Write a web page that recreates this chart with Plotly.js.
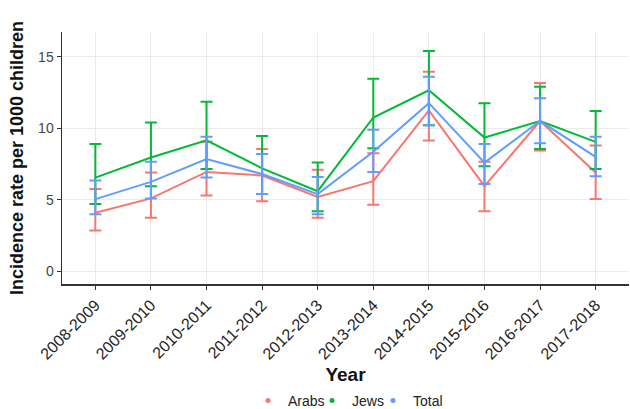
<!DOCTYPE html>
<html>
<head>
<meta charset="utf-8">
<script src="https://cdn.plot.ly/plotly-3.0.1.min.js"></script>
<style>html,body{margin:0;padding:0;background:#fff;}#chart{width:630px;height:409px;}</style>
</head>
<body>
<div id="chart"></div>
<script>
const years = ['2008-2009','2009-2010','2010-2011','2011-2012','2012-2013','2013-2014','2014-2015','2015-2016','2016-2017','2017-2018'];

const arabs   = [4.1, 5.1, 6.95, 6.7, 5.2, 6.3, 11.25, 5.95, 10.5, 6.9];
const arabsHi = [5.75, 6.9, 9.05, 8.55, 7.1, 8.25, 13.95, 7.65, 13.15, 8.8];
const arabsLo = [2.85, 3.75, 5.3, 4.9, 3.75, 4.65, 9.15, 4.2, 8.45, 5.05];

const jews   = [6.55, 7.95, 9.15, 7.2, 5.6, 10.75, 12.65, 9.35, 10.5, 9.05];
const jewsHi = [8.9, 10.4, 11.85, 9.45, 7.6, 13.45, 15.4, 11.75, 12.9, 11.2];
const jewsLo = [4.7, 5.95, 7.15, 5.4, 4.2, 8.6, 10.2, 7.35, 8.55, 7.15];

const total   = [5.05, 6.25, 7.85, 6.8, 5.4, 8.35, 11.75, 7.6, 10.5, 8.0];
const totalHi = [6.35, 7.65, 9.4, 8.2, 6.6, 9.9, 13.6, 8.9, 12.1, 9.4];
const totalLo = [4.0, 5.1, 6.55, 5.4, 4.0, 6.95, 10.2, 6.1, 8.95, 6.65];

const groups = [
  {name:'Arabs', v:arabs, hi:arabsHi, lo:arabsLo, color:'#F8766D', legend:'legend'},
  {name:'Jews',  v:jews,  hi:jewsHi,  lo:jewsLo,  color:'#00BA38', legend:'legend2'},
  {name:'Total', v:total, hi:totalHi, lo:totalLo, color:'#619CFF', legend:'legend3'}
];

const traces = [];
groups.forEach(g => {
  traces.push({
    type:'scatter', mode:'lines', x:years, y:g.v, name:g.name, showlegend:false,
    line:{color:g.color, width:2},
    error_y:{type:'data', symmetric:false,
      array:g.hi.map((h,i)=>h-g.v[i]),
      arrayminus:g.v.map((v,i)=>v-g.lo[i]),
      color:g.color, thickness:2, width:6},
    hoverinfo:'x+y'
  });
});
groups.forEach(g => {
  traces.push({
    type:'scatter', mode:'markers', x:[null], y:[null], name:g.name, showlegend:true,
    legend:g.legend, marker:{color:g.color, size:5}
  });
});

const legendBase = {orientation:'h', xanchor:'left', yref:'container', y:0.02, yanchor:'middle',
    font:{size:14, color:'#222'}, itemwidth:30, bgcolor:'rgba(0,0,0,0)'};

const layout = {
  width:630, height:409,
  margin:{l:62, r:1, t:32, b:125},
  paper_bgcolor:'#fff', plot_bgcolor:'#fff',
  font:{family:'Liberation Sans, Arial, sans-serif', size:12, color:'#4d4d4d'},
  xaxis:{
    type:'category', range:[-0.6, 9.6], automargin:false,
    tickangle:-45, tickfont:{size:16, color:'#222'},
    showgrid:true, gridcolor:'#ebebeb', gridwidth:1,
    showline:true, linecolor:'#333', linewidth:1.5,
    ticks:'outside', ticklen:4, tickcolor:'#333',
    zeroline:false,
    title:{text:'<b>Year</b>', font:{size:19, color:'#111'}}
  },
  yaxis:{
    range:[-0.88, 16.72], automargin:false,
    tickvals:[0,5,10,15], ticktext:['0','5','10','15'],
    tickfont:{size:14, color:'#444'},
    showgrid:true, gridcolor:'#ebebeb', gridwidth:1,
    showline:true, linecolor:'#333', linewidth:1.5,
    ticks:'outside', ticklen:4, tickcolor:'#333',
    zeroline:false,
    title:{text:'<b>Incidence rate per 1000 children</b>', font:{size:18, color:'#111'}, standoff:10}
  },
  legend:Object.assign({}, legendBase, {x:0.328}),
  legend2:Object.assign({}, legendBase, {x:0.441}),
  legend3:Object.assign({}, legendBase, {x:0.5485}),
  showlegend:true
};

Plotly.newPlot('chart', traces, layout, {staticPlot:true, displayModeBar:false});
</script>
</body>
</html>
